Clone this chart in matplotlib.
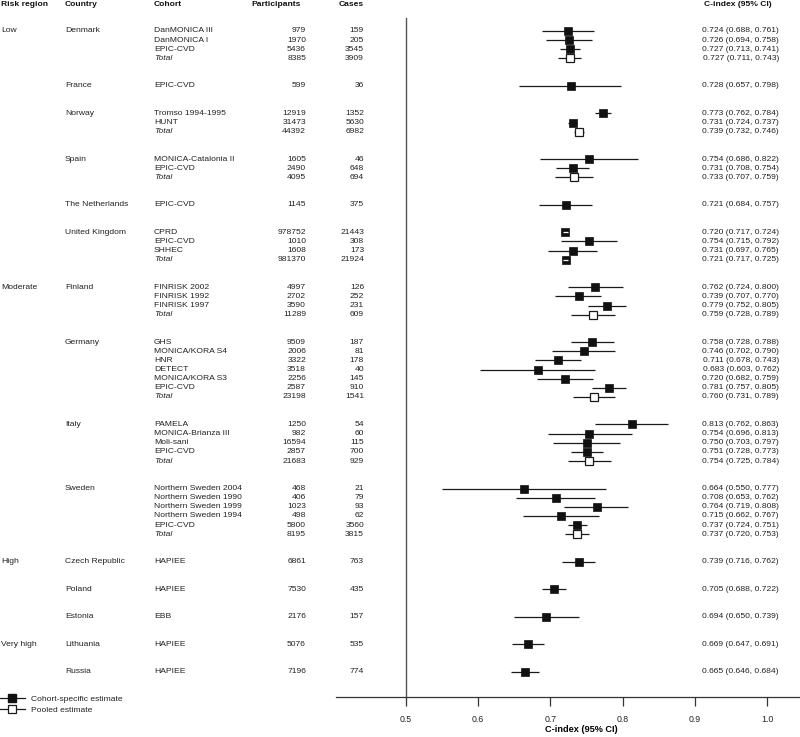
import matplotlib
matplotlib.use("Agg")
import matplotlib.pyplot as plt
from matplotlib.lines import Line2D
from matplotlib.transforms import blended_transform_factory

plt.rcParams['font.family'] = ['Liberation Sans', 'DejaVu Sans']

# ---------------- data ----------------
countries = ["Denmark", "France", "Norway", "Spain", "The Netherlands", "United Kingdom",
             "Finland", "Germany", "Italy", "Sweden", "Czech Republic", "Poland",
             "Estonia", "Lithuania", "Russia"]
country_region = ["Low", "Low", "Low", "Low", "Low", "Low",
                  "Moderate", "Moderate", "Moderate", "Moderate",
                  "High", "High", "High", "Very high", "Very high"]

row_country = (["Denmark"] * 4 + ["France"] + ["Norway"] * 3 + ["Spain"] * 3 +
               ["The Netherlands"] + ["United Kingdom"] * 4 + ["Finland"] * 4 +
               ["Germany"] * 7 + ["Italy"] * 5 + ["Sweden"] * 6 +
               ["Czech Republic", "Poland", "Estonia", "Lithuania", "Russia"])
cohorts = ["DanMONICA III", "DanMONICA I", "EPIC-CVD", "Total",
           "EPIC-CVD",
           "Tromso 1994-1995", "HUNT", "Total",
           "MONICA-Catalonia II", "EPIC-CVD", "Total",
           "EPIC-CVD",
           "CPRD", "EPIC-CVD", "SHHEC", "Total",
           "FINRISK 2002", "FINRISK 1992", "FINRISK 1997", "Total",
           "GHS", "MONICA/KORA S4", "HNR", "DETECT", "MONICA/KORA S3", "EPIC-CVD", "Total",
           "PAMELA", "MONICA-Brianza III", "Moli-sani", "EPIC-CVD", "Total",
           "Northern Sweden 2004", "Northern Sweden 1990", "Northern Sweden 1999",
           "Northern Sweden 1994", "EPIC-CVD", "Total",
           "HAPIEE", "HAPIEE", "EBB", "HAPIEE", "HAPIEE"]
participants = [979, 1970, 5436, 8385,
                599,
                12919, 31473, 44392,
                1605, 2490, 4095,
                1145,
                978752, 1010, 1608, 981370,
                4997, 2702, 3590, 11289,
                9509, 2006, 3322, 3518, 2256, 2587, 23198,
                1250, 982, 16594, 2857, 21683,
                468, 406, 1023, 498, 5800, 8195,
                6861, 7530, 2176, 5076, 7196]
cases = [159, 205, 3545, 3909,
         36,
         1352, 5630, 6982,
         46, 648, 694,
         375,
         21443, 308, 173, 21924,
         126, 252, 231, 609,
         187, 81, 178, 40, 145, 910, 1541,
         54, 60, 115, 700, 929,
         21, 79, 93, 62, 3560, 3815,
         763, 435, 157, 535, 774]
cindex = [0.724, 0.726, 0.727, 0.727,
          0.728,
          0.773, 0.731, 0.739,
          0.754, 0.731, 0.733,
          0.721,
          0.720, 0.754, 0.731, 0.721,
          0.762, 0.739, 0.779, 0.759,
          0.758, 0.746, 0.711, 0.683, 0.720, 0.781, 0.760,
          0.813, 0.754, 0.750, 0.751, 0.754,
          0.664, 0.708, 0.764, 0.715, 0.737, 0.737,
          0.739, 0.705, 0.694, 0.669, 0.665]
ci_low = [0.688, 0.694, 0.713, 0.711,
          0.657,
          0.762, 0.724, 0.732,
          0.686, 0.708, 0.707,
          0.684,
          0.717, 0.715, 0.697, 0.717,
          0.724, 0.707, 0.752, 0.728,
          0.728, 0.702, 0.678, 0.603, 0.682, 0.757, 0.731,
          0.762, 0.696, 0.703, 0.728, 0.725,
          0.550, 0.653, 0.719, 0.662, 0.724, 0.720,
          0.716, 0.688, 0.650, 0.647, 0.646]
ci_high = [0.761, 0.758, 0.741, 0.743,
           0.798,
           0.784, 0.737, 0.746,
           0.822, 0.754, 0.759,
           0.757,
           0.724, 0.792, 0.765, 0.725,
           0.800, 0.770, 0.805, 0.789,
           0.788, 0.790, 0.743, 0.762, 0.759, 0.805, 0.789,
           0.863, 0.813, 0.797, 0.773, 0.784,
           0.777, 0.762, 0.808, 0.767, 0.751, 0.753,
           0.762, 0.722, 0.739, 0.691, 0.684]

xticks = [0.5, 0.6, 0.7, 0.8, 0.9, 1.0]

# ---------------- layout ----------------
W, H = 800, 737
fig = plt.figure(figsize=(W / 100, H / 100), dpi=100)

# row positions: 2 blank rows between countries
rows = []
r = 0
prev = None
for c in row_country:
    if prev is not None and c != prev:
        r += 3
    elif prev is not None:
        r += 1
    rows.append(r)
    prev = c

px0, py0 = 31.0, 9.15   # pixel y of row 0, pixels per row
def row_of_px(py):
    return (py - px0) / py0

ax_left_px, ax_right_px = 336, 800
ax_bottom_px = 697
ax = fig.add_axes([ax_left_px / W, (H - ax_bottom_px) / H,
                   (ax_right_px - ax_left_px) / W, ax_bottom_px / H])
ppu = (767 - 406) / 0.5
xmin = 0.5 - (406 - ax_left_px) / ppu
xmax = 1.0 + (ax_right_px - 767) / ppu
ax.set_xlim(xmin, xmax)
ax.set_ylim(row_of_px(ax_bottom_px), row_of_px(0))

for s in ["top", "right", "left"]:
    ax.spines[s].set_visible(False)
ax.spines["bottom"].set_linewidth(0.9)
ax.spines["bottom"].set_color("#333333")
ax.set_yticks([])
ax.set_xticks(xticks)
ax.set_xticklabels([f"{t:.1f}" for t in xticks])
ax.tick_params(axis="x", direction="out", length=6.5, width=0.9, colors="#333333",
               labelsize=6.3, pad=6.5, labelcolor="#222222")
ax.set_xlabel("C-index (95% CI)", fontsize=6.6, fontweight="bold", labelpad=2)
ax.xaxis.set_label_coords((581 - ax_left_px) / (ax_right_px - ax_left_px), -0.040)

# reference line at 0.5
ax.plot([0.5, 0.5], [row_of_px(18), row_of_px(ax_bottom_px)], color="#555555",
        lw=1.0, clip_on=False, zorder=1)

half_w = 3.5 / ppu
for i in range(len(cohorts)):
    y = rows[i]
    pooled = cohorts[i] == "Total"
    inside = (cindex[i] - ci_low[i] < half_w) and (ci_high[i] - cindex[i] < half_w)
    ax.plot([ci_low[i], ci_high[i]], [y, y], color="#1a1a1a", lw=0.9, zorder=2,
            solid_capstyle="butt")
    if pooled and not inside:
        ax.plot(cindex[i], y, marker="s", ms=6.0, mfc="white", mec="#1a1a1a",
                mew=0.9, zorder=3)
    else:
        ax.plot(cindex[i], y, marker="s", ms=5.4, mfc="#111111", mec="#111111",
                mew=0.5, zorder=3)
    if inside:
        ax.plot([ci_low[i], ci_high[i]], [y, y], color="white", lw=0.9, zorder=4,
                solid_capstyle="butt")

# ---------------- table text ----------------
tr = blended_transform_factory(fig.transFigure, ax.transData)
fs = 6.1
col_region = 1 / W
col_country = 65 / W
col_cohort = 154 / W
col_part = 306 / W
col_cases = 364 / W
col_ci = 779 / W

hy = row_of_px(4.5)
hdr = dict(transform=tr, fontsize=fs, fontweight="bold", va="center", clip_on=False,
           color="#111111")
ax.text(col_region, hy, "Risk region", ha="left", **hdr)
ax.text(col_country, hy, "Country", ha="left", **hdr)
ax.text(col_cohort, hy, "Cohort", ha="left", **hdr)
ax.text(301 / W, hy, "Participants", ha="right", **hdr)
ax.text(col_cases, hy, "Cases", ha="right", **hdr)
ax.text(col_ci - 7 / W, hy, "C-index (95% CI)", ha="right", **hdr)

txt = dict(transform=tr, fontsize=fs, va="center", clip_on=False, color="#222222")
seen_region = set()
seen_country = set()
for i in range(len(cohorts)):
    y = rows[i]
    c = row_country[i]
    if c not in seen_country:
        seen_country.add(c)
        ax.text(col_country, y, c, ha="left", **txt)
        reg = country_region[countries.index(c)]
        if reg not in seen_region:
            seen_region.add(reg)
            ax.text(col_region, y, reg, ha="left", **txt)
    style = "italic" if cohorts[i] == "Total" else "normal"
    ax.text(col_cohort, y, cohorts[i], ha="left", fontstyle=style, **txt)
    ax.text(col_part, y, f"{participants[i]}", ha="right", **txt)
    ax.text(col_cases, y, f"{cases[i]}", ha="right", **txt)
    ax.text(col_ci, y, f"{cindex[i]:.3f} ({ci_low[i]:.3f}, {ci_high[i]:.3f})",
            ha="right", **txt)

# ---------------- legend ----------------
handles = [
    Line2D([], [], color="#1a1a1a", lw=0.9, marker="s", ms=5.4, mfc="#111111",
           mec="#111111"),
    Line2D([], [], color="#1a1a1a", lw=0.9, marker="s", ms=6.0, mfc="white",
           mec="#1a1a1a", mew=0.9),
]
fig.legend(handles, ["Cohort-specific estimate", "Pooled estimate"],
           loc="upper left", bbox_to_anchor=(-0.002, (H - 695) / H), frameon=False,
           fontsize=fs, handlelength=3.1, handletextpad=0.7, labelspacing=0.35,
           borderpad=0, borderaxespad=0, labelcolor="#222222")

fig.savefig("out.png", dpi=100)
